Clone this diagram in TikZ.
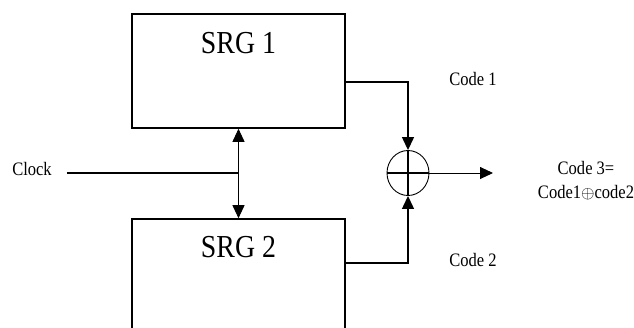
\documentclass[tikz,border=0pt]{standalone}
\usepackage{fontspec}
\setmainfont{Liberation Serif}[FakeStretch=0.87]
\usepackage{tikz}
\usetikzlibrary{shapes.geometric, arrows.meta, positioning, calc}

\begin{document}
\begin{tikzpicture}[
  x=1pt, y=-1pt,
  box/.style={draw, line width=1.6pt, minimum width=213pt, minimum height=114pt, inner sep=0pt},
  title/.style={font=\fontsize{32}{36}\selectfont, inner sep=0pt},
  lbl/.style={font=\fontsize{19}{24}\selectfont, inner sep=0pt},
  wire/.style={line width=1.3pt},
  tip/.style={-{Triangle[length=13pt, width=12pt]}},
]
  \clip (0,0) rectangle (634,327);

  % Shift registers
  \node[box] (srg1) at (238.5,71) {};
  \node[box] (srg2) at (238.5,276) {};
  \node[title] (srg1txt) at (238.5,43) {SRG 1};
  \node[title] (srg2txt) at (238.5,247) {SRG 2};

  % XOR
  \node[draw, ellipse, line width=0.9pt, minimum width=42pt, minimum height=45pt, inner sep=0pt] (xor) at (408,173) {};
  \draw[line width=1.1pt] (xor.west) -- (xor.east);
  \draw[line width=1.1pt] (xor.north) -- (xor.south);

  % Labels
  \node[lbl] (clk) at (32,169) {Clock};
  \node[lbl] (c1) at (473,79) {Code 1};
  \node[lbl] (c2) at (473,260) {Code 2};
  \node[lbl, align=center] (c3) at (586,181) {Code 3=\\Code1$\oplus$code2};

  % Clock
  \coordinate (jn) at (srg1.south |- 0,173);
  \draw[line width=1.8pt, shorten <=15pt] (clk.east |- jn) -- (jn);
  \draw[line width=0.9pt, {Triangle[length=13pt, width=12pt]}-{Triangle[length=13pt, width=12pt]}] (srg1.south) -- (srg2.north);

  % Codes
  \draw[wire, tip] (srg1.east |- 0,82) -| (xor.north);
  \draw[wire, tip] (srg2.east |- 0,263) -| (xor.south);
  \coordinate (out) at (493,173);
  \draw[line width=0.9pt, tip] (xor.east) -- (out);
\end{tikzpicture}
\end{document}
